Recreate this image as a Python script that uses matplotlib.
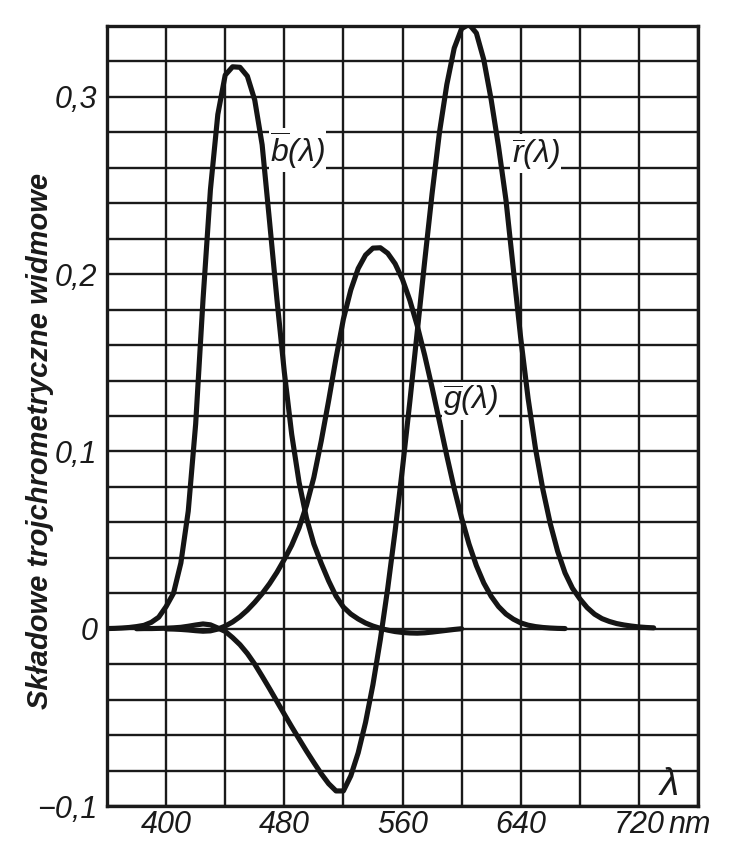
import matplotlib
matplotlib.use("Agg")
import matplotlib.pyplot as plt
from matplotlib import font_manager as fm
import numpy as np

# ---- data ----
wl_b = [360, 365, 370, 375, 380, 385, 390, 395, 400, 405, 410, 415, 420, 425, 430, 435,
        440, 445, 450, 455, 460, 465, 470, 475, 480, 485, 490, 495, 500, 505, 510, 515,
        520, 525, 530, 535, 540, 545, 550, 555, 560, 565, 570, 575, 580, 585, 590, 595, 600]
b_bar = [0.0001, 0.0002, 0.0004, 0.0007, 0.0012, 0.0019, 0.0036, 0.0065, 0.0125, 0.0200,
         0.0371, 0.0664, 0.1154, 0.1858, 0.2477, 0.2901, 0.3123, 0.3170, 0.3167, 0.3117,
         0.2982, 0.2730, 0.2299, 0.1859, 0.1449, 0.1097, 0.0826, 0.0625, 0.0478, 0.0369,
         0.0270, 0.0184, 0.0122, 0.0083, 0.0055, 0.0032, 0.0015, 0.0002, -0.0008, -0.0016,
         -0.0021, -0.0024, -0.0025, -0.0023, -0.0019, -0.0014, -0.0009, -0.0004, 0.0]

wl_g = [400, 405, 410, 415, 420, 425, 430, 435, 440, 445, 450, 455, 460, 465, 470, 475,
        480, 485, 490, 495, 500, 505, 510, 515, 520, 525, 530, 535, 540, 545, 550, 555,
        560, 565, 570, 575, 580, 585, 590, 595, 600, 605, 610, 615, 620, 625, 630, 635,
        640, 645, 650, 655, 660, 665, 670]
g_bar = [-0.0001, -0.0002, -0.0004, -0.0007, -0.0011, -0.0014, -0.0012, -0.0002, 0.0015,
         0.0038, 0.0068, 0.0105, 0.0149, 0.0198, 0.0254, 0.0318, 0.0391, 0.0471, 0.0569,
         0.0695, 0.0854, 0.1059, 0.1286, 0.1526, 0.1747, 0.1911, 0.2032, 0.2108, 0.2147,
         0.2149, 0.2118, 0.2059, 0.1970, 0.1852, 0.1709, 0.1543, 0.1361, 0.1169, 0.0975,
         0.0791, 0.0625, 0.0478, 0.0356, 0.0258, 0.0183, 0.0125, 0.0083, 0.0054, 0.0033,
         0.0020, 0.0012, 0.0007, 0.0004, 0.0002, 0.0001]

wl_r = [380, 385, 390, 395, 400, 405, 410, 415, 420, 425, 430, 435, 440, 445, 450, 455,
        460, 465, 470, 475, 480, 485, 490, 495, 500, 505, 510, 515, 520, 525, 530, 535,
        540, 545, 550, 555, 560, 565, 570, 575, 580, 585, 590, 595, 600, 605, 610, 615,
        620, 625, 630, 635, 640, 645, 650, 655, 660, 665, 670, 675, 680, 685, 690, 695,
        700, 705, 710, 715, 720, 725, 730]
r_bar = [0.0000, 0.0001, 0.0001, 0.0002, 0.0003, 0.0005, 0.0008, 0.0014, 0.0021, 0.0027,
         0.0022, 0.0004, -0.0015, -0.0050, -0.0090, -0.0140, -0.0200, -0.0268, -0.0338,
         -0.0410, -0.0482, -0.0553, -0.0622, -0.0690, -0.0755, -0.0818, -0.0874, -0.0915,
         -0.0915, -0.0830, -0.0700, -0.0528, -0.0315, -0.0061, 0.0228, 0.0551, 0.0906,
         0.1284, 0.1677, 0.2072, 0.2453, 0.2799, 0.3070, 0.3275, 0.3385, 0.3410, 0.3360,
         0.3210, 0.2985, 0.2720, 0.2420, 0.2030, 0.1640, 0.1300, 0.1017, 0.0786, 0.0593,
         0.0437, 0.0315, 0.0229, 0.0169, 0.0119, 0.0082, 0.0057, 0.0041, 0.0029, 0.0021,
         0.0015, 0.0010, 0.0007, 0.0005]

x_ticks = [400, 480, 560, 640, 720]
x_ticklabels = ["400", "480", "560", "640", "720"]
y_ticks = [-0.1, 0.0, 0.1, 0.2, 0.3]
y_ticklabels = ["\u22120,1", "0", "0,1", "0,2", "0,3"]
labels = [r"$\overline{b}(\lambda)$", r"$\overline{g}(\lambda)$", r"$\overline{r}(\lambda)$"]
label_pos = [(489, 0.270), (606, 0.1285), (650, 0.268)]
ylabel = "Składowe trojchrometryczne widmowe"

# ---- fonts ----
names = {f.name for f in fm.fontManager.ttflist}
fam = "Liberation Sans Narrow" if "Liberation Sans Narrow" in names else "Liberation Sans"
plt.rcParams["font.family"] = [fam, "DejaVu Sans"]
plt.rcParams["mathtext.fontset"] = "custom"
plt.rcParams["mathtext.it"] = fam + ":italic"
plt.rcParams["mathtext.rm"] = fam + ":italic"

INK = "#1a1a1a"
fig = plt.figure(figsize=(7.44, 8.47), dpi=100)
ax = fig.add_axes([107 / 744, 1 - 806 / 847, (698 - 107) / 744, (806 - 26) / 847])

ax.set_xlim(360, 760)
ax.set_ylim(-0.1, 0.34)
ax.set_xticks(np.arange(360, 761, 40), minor=True)
ax.set_yticks(np.arange(-0.1, 0.341, 0.02), minor=True)
ax.grid(True, which="both", color=INK, lw=1.7)
ax.set_axisbelow(True)
ax.set_xticks(x_ticks)
ax.set_xticklabels(x_ticklabels)
ax.set_yticks(y_ticks)
ax.set_yticklabels(y_ticklabels)
ax.tick_params(which="both", length=0, labelsize=22)
ax.tick_params(axis="x", pad=3)
ax.tick_params(axis="y", pad=7)
for t in ax.get_xticklabels() + ax.get_yticklabels():
    t.set_fontstyle("italic")
    t.set_color(INK)
for s in ax.spines.values():
    s.set_linewidth(2.4)
    s.set_color(INK)

for wl, v in [(wl_b, b_bar), (wl_g, g_bar), (wl_r, r_bar)]:
    ax.plot(wl, v, color="#151515", lw=3.7, solid_capstyle="round",
            solid_joinstyle="round", zorder=3)

for lab, (lx, ly) in zip(labels, label_pos):
    ax.text(lx, ly, lab, fontsize=23, ha="center", va="center", color=INK,
            bbox=dict(facecolor="white", edgecolor="none", pad=1), zorder=2.5)

ax.text(740, -0.088, r"$\lambda$", fontsize=28, ha="center", va="center", color=INK)
ax.annotate("nm", xy=(720, 0), xycoords=("data", "axes fraction"), xytext=(21, -3),
            textcoords="offset points", ha="left", va="top", fontsize=22,
            style="italic", color=INK)

fig.text(40 / 744, 1 - 441 / 847, ylabel, rotation=90, fontsize=21, style="italic",
         fontweight="bold", ha="center", va="center", color=INK)

fig.savefig("out.png", dpi=100, facecolor="white")
